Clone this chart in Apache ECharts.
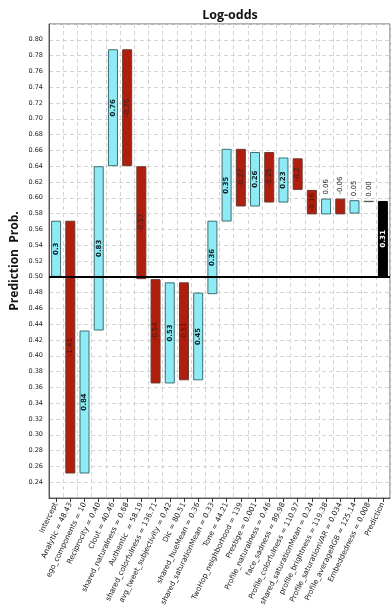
<!DOCTYPE html>
<html>
<head>
<meta charset="utf-8">
<script src="https://cdn.jsdelivr.net/npm/echarts@6/dist/echarts.min.js"></script>
<style>html,body{margin:0;padding:0;background:#fff;}#c{width:392px;height:612px;}</style>
</head>
<body>
<div id="c"></div>
<script>
const categories = ['Intercept','Analytic = 48.43','ego_components = 10','Reciprocity = 0.40','Clout = 40.46','shared_naturalness = 0.68','Authentic  = 58.19','shared_colorfulness = 136.71','avg_tweet_subjectivity = 0.42','Dic = 80.51','shared_hueMean = 0.36','shared_saturationMean = 0.33','Tone = 44.21','TwoHop_neighborhood = 139','Prestige = 0.001','Profile_naturalness = 0.46','face_sadness = 89.98','Profile_colorfulness = 110.97','shared_saturationMean = 0.24','profile_brightness = 119.38','Profile_saturationVAR = 0.034','Profile_averageRGB = 125.14','Embeddedness = 0.008','Prediction'];
const lows  = [0.500,0.251,0.251,0.432,0.640,0.640,0.497,0.365,0.365,0.369,0.369,0.478,0.570,0.589,0.589,0.594,0.594,0.610,0.579,0.579,0.579,0.580,0.5945,0.500];
const highs = [0.571,0.571,0.432,0.640,0.788,0.788,0.640,0.497,0.493,0.493,0.480,0.571,0.662,0.662,0.658,0.658,0.651,0.650,0.610,0.599,0.599,0.597,0.5962,0.596];
const logOdds = ['0.3','-1.41','0.84','0.83','0.76','-0.76','-0.57','-0.54','0.53','-0.51','0.45','0.36','0.35','-0.27','0.26','-0.25','0.23','-0.2','-0.16','0.06','-0.06','0.05','0.00','0.31'];
const kinds = ['pos','neg','pos','pos','pos','neg','neg','neg','pos','neg','pos','pos','pos','neg','pos','neg','pos','neg','neg','pos','neg','pos','zero','total'];
const outsideLabel = [false,false,false,false,false,false,false,false,false,false,false,false,false,false,false,false,false,false,false,true,true,true,true,false];
const baseLine = 0.5;

const styles = {
  pos:   {color:'#8EEBF5', borderColor:'#3C6E72', borderWidth:1, text:'#0b1f22', weight:'bold'},
  neg:   {color:'#B01E0E', borderColor:'#6A3A30', borderWidth:1, text:'#3a1a14', weight:'normal'},
  zero:  {color:'#555555', borderColor:'#555555', borderWidth:0, text:'#222', weight:'normal'},
  total: {color:'#000000', borderColor:'#000000', borderWidth:1, text:'#ffffff', weight:'bold'}
};

const baseData = lows.slice();
const deltaData = highs.map((h,i)=>{
  const s = styles[kinds[i]];
  return {
    value: +(h - lows[i]).toFixed(4),
    itemStyle: {color:s.color, borderColor:s.borderColor, borderWidth:s.borderWidth},
    label: outsideLabel[i] ? {
      show:true, position:'top', rotate:90, align:'left', verticalAlign:'middle', distance:4,
      color:'#222', fontWeight:'normal', fontSize:7, fontFamily:'DejaVu Sans',
      formatter: logOdds[i]
    } : {
      show:true, position:'inside', rotate:90, align:'center', verticalAlign:'middle',
      color:s.text, fontWeight:s.weight, fontSize:7, fontFamily:'DejaVu Sans',
      formatter: logOdds[i]
    }
  };
});

const chart = echarts.init(document.getElementById('c'), null, {renderer:'canvas'});
chart.setOption({
  animation:false,
  backgroundColor:'#ffffff',
  title:{
    text:'Log-odds', left:225, top:4, textAlign:'center',
    textStyle:{fontFamily:'Open Sans', fontWeight:'bold', fontSize:12.5, color:'#111'}
  },
  grid:{left:49, right:2, top:24, bottom:114, show:true, borderColor:'#666', borderWidth:1,
    containLabel:false, outerBoundsMode:'none'},
  xAxis:{
    type:'category', data:categories,
    axisLine:{show:true, lineStyle:{color:'#555', width:1}},
    axisTick:{show:true, alignWithLabel:true, length:4, lineStyle:{color:'#333'}},
    splitLine:{show:true, lineStyle:{color:'#d4d4d4', type:[4,3], width:1}},
    axisLabel:{rotate:64, interval:0, fontSize:7.3, fontFamily:'DejaVu Sans', color:'#222', margin:5}
  },
  yAxis:{
    type:'value', min:0.22, max:0.82, interval:0.02,
    name:'Prediction  Prob.', nameLocation:'middle', nameGap:28, nameMoveOverlap:false,
    nameTextStyle:{fontFamily:'Open Sans', fontWeight:'bold', fontSize:12, color:'#111'},
    axisLine:{show:true, lineStyle:{color:'#555'}},
    axisTick:{show:false},
    axisLabel:{showMinLabel:false, showMaxLabel:false, fontSize:6.5, fontFamily:'DejaVu Sans', color:'#222', margin:6,
      formatter:v=>v.toFixed(2)},
    splitLine:{show:true, lineStyle:{color:'#d4d4d4', type:[4,3], width:1}}
  },
  series:[
    {type:'bar', stack:'w', data:baseData, barWidth:10, itemStyle:{color:'transparent'}, silent:true},
    {type:'bar', stack:'w', data:deltaData, barWidth:10,
      markLine:{silent:true, symbol:['none','none'], label:{show:false},
        lineStyle:{color:'#000', width:2, type:'solid'}, data:[{yAxis:baseLine}]}}
  ]
});
</script>
</body>
</html>
